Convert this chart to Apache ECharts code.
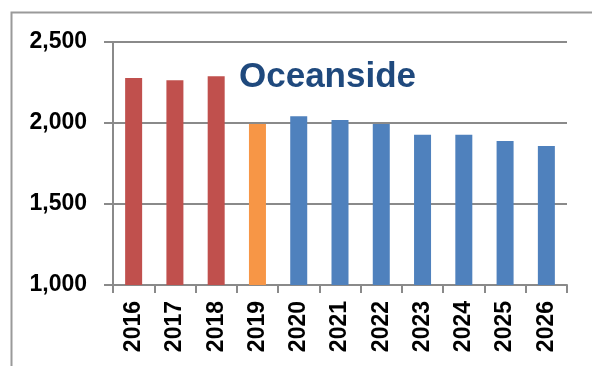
<!DOCTYPE html>
<html>
<head>
<meta charset="utf-8">
<script src="https://cdn.jsdelivr.net/npm/echarts@6/dist/echarts.min.js"></script>
<style>html,body{margin:0;padding:0;background:#fff;}#c{width:592px;height:366px;}</style>
</head>
<body>
<div id="c"></div>
<script>
var categories = ['2016','2017','2018','2019','2020','2021','2022','2023','2024','2025','2026'];
var actualValues    = [2278, 2264, 2288, null, null, null, null, null, null, null, null];
var estimateValues  = [null, null, null, 1994, null, null, null, null, null, null, null];
var projectedValues = [null, null, null, null, 2041, 2019, 1994, 1928, 1928, 1889, 1858];
var yTicks = [1000, 1500, 2000, 2500];
var titleText = 'Oceanside';

var chart = echarts.init(document.getElementById('c'), null, {renderer: 'canvas'});
var font = '"Liberation Sans", Arial, sans-serif';
var gray = '#8a8a8a';
function bar(name, data, color) {
  return {
    name: name, type: 'bar', stack: 'all', data: data, barWidth: 17,
    itemStyle: {color: color}, animation: false
  };
}
chart.setOption({
  animation: false,
  title: {
    text: titleText, left: 234, top: 55,
    textStyle: {fontFamily: font, fontSize: 35, fontWeight: 'bold', color: '#1F497D'}
  },
  graphic: [{
    type: 'rect', left: 9, top: 10,
    shape: {width: 700, height: 500},
    style: {fill: 'none', stroke: '#9a9a9a', lineWidth: 2},
    silent: true, z: -1
  }],
  grid: {left: 113, right: 25, top: 42, bottom: 81, containLabel: false},
  xAxis: {
    type: 'category', data: categories, boundaryGap: true,
    axisLine: {lineStyle: {color: gray, width: 2}},
    axisTick: {show: true, length: 8, lineStyle: {color: gray, width: 2}, alignWithLabel: false},
    axisLabel: {rotate: 90, margin: 16, interval: 0, color: '#000', fontFamily: font, fontSize: 23, fontWeight: 'bold'}
  },
  yAxis: {
    type: 'value', min: yTicks[0], max: yTicks[yTicks.length - 1], interval: yTicks[1] - yTicks[0],
    axisLine: {show: true, lineStyle: {color: gray, width: 2}},
    axisTick: {show: true, length: 9, lineStyle: {color: gray, width: 2}},
    splitLine: {show: true, lineStyle: {color: gray, width: 2}},
    axisLabel: {
      margin: 26, color: '#000', fontFamily: font, fontSize: 23, fontWeight: 'bold',
      formatter: function (v) { return v.toLocaleString('en-US'); }
    }
  },
  series: [
    bar('Actual', actualValues, '#C0504D'),
    bar('Estimate', estimateValues, '#F79646'),
    bar('Projected', projectedValues, '#4F81BD')
  ]
});
</script>
</body>
</html>
